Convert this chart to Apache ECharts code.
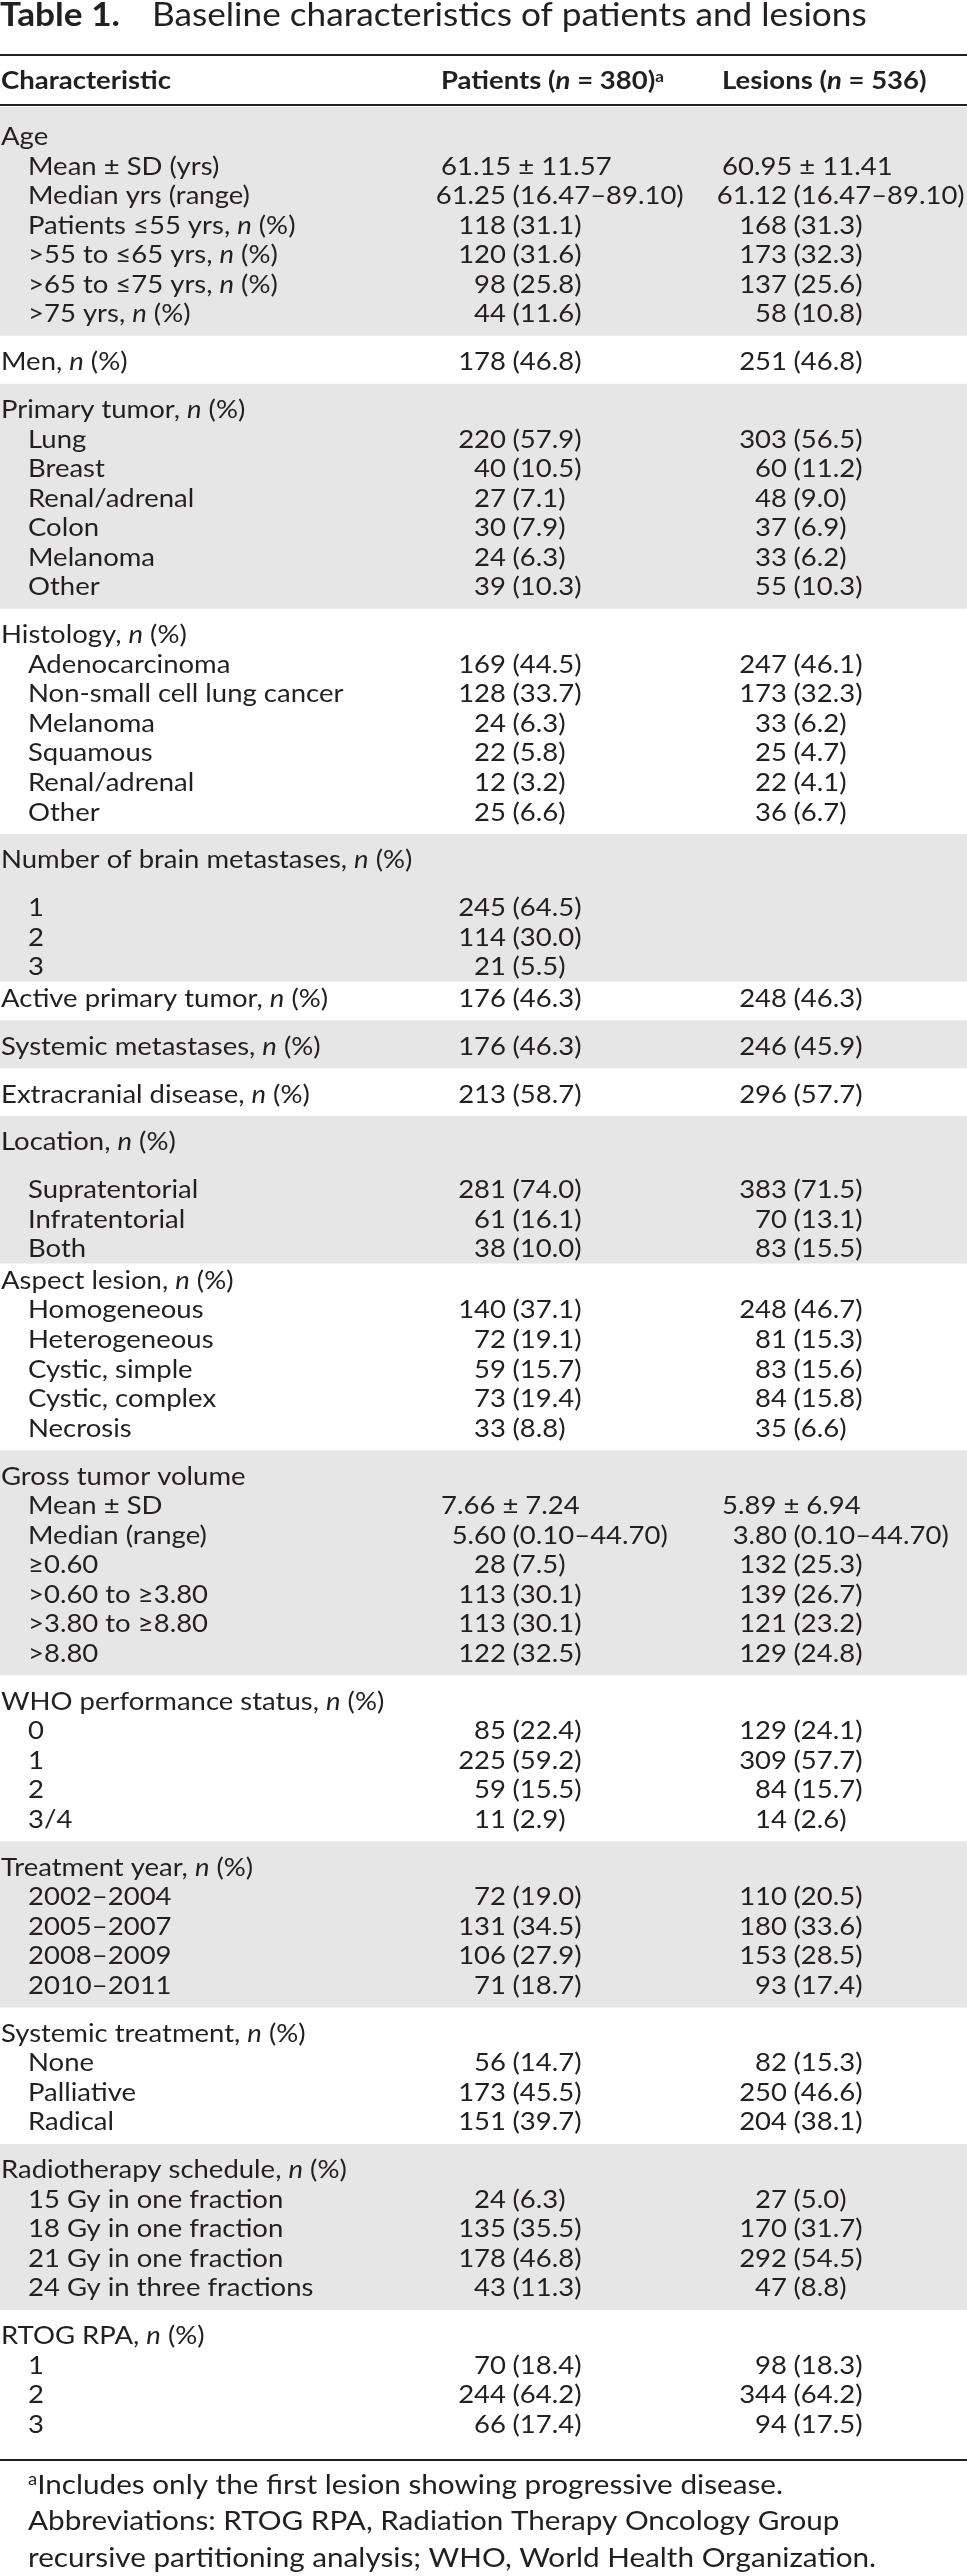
<!DOCTYPE html>
<html><head><meta charset="utf-8">
<script src="https://cdn.jsdelivr.net/npm/echarts@6/dist/echarts.min.js"></script>
<style>html,body{margin:0;padding:0;background:#fff}#c{width:967px;height:2576px}</style>
</head><body><div id="c"></div>
<script>
// ---------------- DATA ----------------
const tableTitle = ['Table 1.', 'Baseline characteristics of patients and lesions'];
const columnHeaders = ['Characteristic', 'Patients (n = 380)', 'Lesions (n = 536)'];
const headerNotes = ['', 'a', ''];
const groupSizes = [7, 1, 7, 7, 4, 1, 1, 1, 4, 6, 7, 5, 5, 4, 5, 4];
const blankAfterHeading = [4, 8];
const characteristics = [
  'Age', 'Mean ± SD (yrs)', 'Median yrs (range)', 'Patients ≤55 yrs, n (%)', '>55 to ≤65 yrs, n (%)', '>65 to ≤75 yrs, n (%)', '>75 yrs, n (%)',
  'Men, n (%)',
  'Primary tumor, n (%)', 'Lung', 'Breast', 'Renal/adrenal', 'Colon', 'Melanoma', 'Other',
  'Histology, n (%)', 'Adenocarcinoma', 'Non-small cell lung cancer', 'Melanoma', 'Squamous', 'Renal/adrenal', 'Other',
  'Number of brain metastases, n (%)', '1', '2', '3',
  'Active primary tumor, n (%)',
  'Systemic metastases, n (%)',
  'Extracranial disease, n (%)',
  'Location, n (%)', 'Supratentorial', 'Infratentorial', 'Both',
  'Aspect lesion, n (%)', 'Homogeneous', 'Heterogeneous', 'Cystic, simple', 'Cystic, complex', 'Necrosis',
  'Gross tumor volume', 'Mean ± SD', 'Median (range)', '≥0.60', '>0.60 to ≥3.80', '>3.80 to ≥8.80', '>8.80',
  'WHO performance status, n (%)', '0', '1', '2', '3/4',
  'Treatment year, n (%)', '2002–2004', '2005–2007', '2008–2009', '2010–2011',
  'Systemic treatment, n (%)', 'None', 'Palliative', 'Radical',
  'Radiotherapy schedule, n (%)', '15 Gy in one fraction', '18 Gy in one fraction', '21 Gy in one fraction', '24 Gy in three fractions',
  'RTOG RPA, n (%)', '1', '2', '3'
];
const patientsValues = [
  '', '61.15 ± 11.57', '61.25 (16.47–89.10)', '118 (31.1)', '120 (31.6)', '98 (25.8)', '44 (11.6)',
  '178 (46.8)',
  '', '220 (57.9)', '40 (10.5)', '27 (7.1)', '30 (7.9)', '24 (6.3)', '39 (10.3)',
  '', '169 (44.5)', '128 (33.7)', '24 (6.3)', '22 (5.8)', '12 (3.2)', '25 (6.6)',
  '', '245 (64.5)', '114 (30.0)', '21 (5.5)',
  '176 (46.3)',
  '176 (46.3)',
  '213 (58.7)',
  '', '281 (74.0)', '61 (16.1)', '38 (10.0)',
  '', '140 (37.1)', '72 (19.1)', '59 (15.7)', '73 (19.4)', '33 (8.8)',
  '', '7.66 ± 7.24', '5.60 (0.10–44.70)', '28 (7.5)', '113 (30.1)', '113 (30.1)', '122 (32.5)',
  '', '85 (22.4)', '225 (59.2)', '59 (15.5)', '11 (2.9)',
  '', '72 (19.0)', '131 (34.5)', '106 (27.9)', '71 (18.7)',
  '', '56 (14.7)', '173 (45.5)', '151 (39.7)',
  '', '24 (6.3)', '135 (35.5)', '178 (46.8)', '43 (11.3)',
  '', '70 (18.4)', '244 (64.2)', '66 (17.4)'
];
const lesionsValues = [
  '', '60.95 ± 11.41', '61.12 (16.47–89.10)', '168 (31.3)', '173 (32.3)', '137 (25.6)', '58 (10.8)',
  '251 (46.8)',
  '', '303 (56.5)', '60 (11.2)', '48 (9.0)', '37 (6.9)', '33 (6.2)', '55 (10.3)',
  '', '247 (46.1)', '173 (32.3)', '33 (6.2)', '25 (4.7)', '22 (4.1)', '36 (6.7)',
  '', '', '', '',
  '248 (46.3)',
  '246 (45.9)',
  '296 (57.7)',
  '', '383 (71.5)', '70 (13.1)', '83 (15.5)',
  '', '248 (46.7)', '81 (15.3)', '83 (15.6)', '84 (15.8)', '35 (6.6)',
  '', '5.89 ± 6.94', '3.80 (0.10–44.70)', '132 (25.3)', '139 (26.7)', '121 (23.2)', '129 (24.8)',
  '', '129 (24.1)', '309 (57.7)', '84 (15.7)', '14 (2.6)',
  '', '110 (20.5)', '180 (33.6)', '153 (28.5)', '93 (17.4)',
  '', '82 (15.3)', '250 (46.6)', '204 (38.1)',
  '', '27 (5.0)', '170 (31.7)', '292 (54.5)', '47 (8.8)',
  '', '98 (18.3)', '344 (64.2)', '94 (17.5)'
];
const footnoteMarks = ['a', '', ''];
const footnotes = [
  'Includes only the first lesion showing progressive disease.',
  'Abbreviations: RTOG RPA, Radiation Therapy Oncology Group',
  'recursive partitioning analysis; WHO, World Health Organization.'
];

// ---------------- LAYOUT / STYLE ----------------
const L = {
  W: 967, H: 2576,
  font: 'Lato', size: 25, sx: 1.1, color: '#231f20', band: '#e6e6e6', rule: '#231f20',
  labelX: 1, indentX: 28, colLeft: [441, 722], colAnchor: [506, 787], gap: 6.5,
  titleY: 16, titleSize: 32, titleSx: 1.1, title2X: 152,
  topRuleY: 55, headerY: 81, headerRuleY: 105,
  firstRowY: 137, pitch: 29.55, groupGap: 18.3, afterBlank: 2,
  bandLead: 30, split: 0.45, lastBandPad: 20, bottomRulePad: 35,
  footPad: 25.5, footPitch: 36.5, footX: 28, footSize: 26.5, footSx: 1.12
};

// row positions from group structure
const rowY = [], isHead = [], gStart = [], gEnd = [];
{
  let y = L.firstRowY, idx = 0;
  groupSizes.forEach((n, g) => {
    gStart.push(idx); gEnd.push(idx + n - 1);
    for (let k = 0; k < n; k++) {
      if (idx > 0) {
        let step = L.pitch;
        if (k === 0) step += blankAfterHeading.includes(g - 1) ? L.afterBlank : L.groupGap;
        else if (k === 1 && blankAfterHeading.includes(g)) step += L.groupGap;
        y += step;
      }
      rowY.push(y); isHead.push(k === 0); idx++;
    }
  });
}
const lastY = rowY[rowY.length - 1];
const bottomRuleY = lastY + L.bottomRulePad;

const bandData = [];
groupSizes.forEach((n, g) => {
  if (g % 2) return;
  const top = g === 0 ? rowY[0] - L.bandLead
    : rowY[gEnd[g - 1]] + L.split * (rowY[gStart[g]] - rowY[gEnd[g - 1]]);
  const bot = g === groupSizes.length - 1 ? rowY[gEnd[g]] + L.lastBandPad
    : rowY[gEnd[g]] + L.split * (rowY[gStart[g + 1]] - rowY[gEnd[g]]);
  bandData.push([0, top, L.W, bot]);
});
const ruleData = [[0, L.topRuleY, L.W], [0, L.headerRuleY, L.W], [0, bottomRuleY, L.W]];

function mkRich(size) {
  return {
    it: { fontFamily: L.font, fontSize: size, fontStyle: 'italic', fill: L.color },
    itb: { fontFamily: L.font, fontSize: size, fontStyle: 'italic', fontWeight: 'bold', fill: L.color },
    b: { fontFamily: L.font, fontSize: size, fontWeight: 'bold', fill: L.color },
    sup: { fontFamily: L.font, fontSize: size * 0.62, fill: L.color, verticalAlign: 'top' },
    supb: { fontFamily: L.font, fontSize: size * 0.62, fontWeight: 'bold', fill: L.color, verticalAlign: 'top' }
  };
}
const rich = mkRich(L.size);
const footRich = mkRich(L.footSize);
const baseText = { fontFamily: L.font, fontSize: L.size, fill: L.color };
function italN(s, tag) { return s.replace(/(^|[ (])n(?=[ )])/g, '$1{' + tag + '|n}'); }
function txt(p, text, align, extra) {
  return { type: 'text', x: p[0], y: p[1], scaleX: L.sx,
    style: Object.assign({ text: text, align: align, verticalAlign: 'middle' }, baseText, extra || {}) };
}

function cellTexts(val, col, y, api) {
  const out = [];
  if (!val) return out;
  if (val.indexOf('±') >= 0) {
    out.push(txt(api.coord([L.colLeft[col], y]), val, 'left'));
  } else {
    const sp = val.indexOf(' ');
    out.push(txt(api.coord([L.colAnchor[col], y]), val.slice(0, sp), 'right'));
    out.push(txt(api.coord([L.colAnchor[col] + L.gap, y]), val.slice(sp + 1), 'left'));
  }
  return out;
}

const chart = echarts.init(document.getElementById('c'), null, { renderer: 'canvas' });
const option = {
  animation: false,
  grid: { left: 0, right: 0, top: 0, bottom: 0 },
  xAxis: { type: 'value', min: 0, max: L.W, show: false },
  yAxis: { type: 'value', min: 0, max: L.H, inverse: true, show: false },
  series: [
    {
      type: 'custom', clip: false, silent: true, encode: { x: [0, 2], y: [1, 3] },
      data: bandData,
      renderItem: (params, api) => {
        const p0 = api.coord([api.value(0), api.value(1)]);
        const p1 = api.coord([api.value(2), api.value(3)]);
        return { type: 'rect', shape: { x: p0[0], y: p0[1], width: p1[0] - p0[0], height: p1[1] - p0[1] }, style: { fill: L.band } };
      }
    },
    {
      type: 'custom', clip: false, silent: true, encode: { x: [0, 2], y: 1 },
      data: ruleData,
      renderItem: (params, api) => {
        const p0 = api.coord([api.value(0), api.value(1)]);
        const p1 = api.coord([api.value(2), api.value(1)]);
        return { type: 'line', shape: { x1: p0[0], y1: p0[1], x2: p1[0], y2: p1[1] }, style: { stroke: L.rule, lineWidth: 2 } };
      }
    },
    {
      // header row
      type: 'custom', clip: false, silent: true, encode: { x: 0, y: 1 },
      data: columnHeaders.map((h, i) => [i === 0 ? L.labelX : L.colLeft[i - 1], L.headerY, i]),
      renderItem: (params, api) => {
        const i = api.value(2);
        const p = api.coord([api.value(0), api.value(1)]);
        let t = '{b|' + italN(columnHeaders[i], 'itb').replace(/\{itb\|n\}/g, '}{itb|n}{b|') + '}';
        if (headerNotes[i]) t += '{supb|' + headerNotes[i] + '}';
        return txt(p, t, 'left', { rich: rich, fontWeight: 'bold' });
      }
    },
    {
      // body rows
      type: 'custom', clip: false, silent: true, encode: { x: 0, y: 1 },
      data: rowY.map((y, i) => [0, y, i]),
      renderItem: (params, api) => {
        const i = api.value(2), y = api.value(1);
        const lp = api.coord([isHead[i] ? L.labelX : L.indentX, y]);
        const children = [txt(lp, italN(characteristics[i], 'it'), 'left', { rich: rich })];
        cellTexts(patientsValues[i], 0, y, api).forEach(c => children.push(c));
        cellTexts(lesionsValues[i], 1, y, api).forEach(c => children.push(c));
        return { type: 'group', children: children };
      }
    },
    {
      // footnotes
      type: 'custom', clip: false, silent: true, encode: { x: 0, y: 1 },
      data: footnotes.map((f, i) => [L.footX, bottomRuleY + L.footPad + i * L.footPitch, i]),
      renderItem: (params, api) => {
        const i = api.value(2);
        const p = api.coord([api.value(0), api.value(1)]);
        const t = (footnoteMarks[i] ? '{sup|' + footnoteMarks[i] + '}' : '') + footnotes[i];
        return { type: 'text', x: p[0], y: p[1], scaleX: L.footSx,
          style: { text: t, rich: footRich, align: 'left', verticalAlign: 'middle', fontFamily: L.font, fontSize: L.footSize, fill: L.color } };
      }
    }
  ],
  graphic: [
    { type: 'text', x: 0, y: L.titleY, scaleX: L.titleSx, style: { text: tableTitle[0], fontFamily: L.font, fontSize: L.titleSize, fontWeight: 'bold', fill: L.color, verticalAlign: 'middle' } },
    { type: 'text', x: L.title2X, y: L.titleY, scaleX: L.titleSx, style: { text: tableTitle[1], fontFamily: L.font, fontSize: L.titleSize, fill: L.color, verticalAlign: 'middle' } }
  ]
};
chart.setOption(option);
</script>
</body></html>
